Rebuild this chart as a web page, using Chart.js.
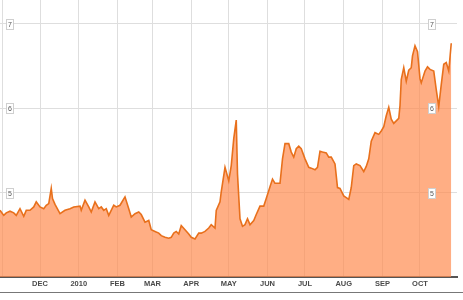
<!DOCTYPE html>
<html><head><meta charset="utf-8">
<script src="https://cdn.jsdelivr.net/npm/chart.js@4"></script>
<style>html,body{margin:0;padding:0;background:#fff;}#wrap{position:relative;width:463px;height:300px;}</style>
</head><body><div id="wrap"><canvas id="c" width="463" height="300"></canvas></div>
<script>
// day offsets counted from this date
const startDate = '2009-11-01';
const dayOffsets = [-2,1,3,6,9,11,14,17,19,22,25,27,30,33,35,37,39,40,42,46,50,54,57,62,63,66,69,71,74,77,79,81,83,85,89,91,94,
  98,101,103,106,109,111,114,117,119,122,125,127,130,133,135,137,139,141,143,146,149,151,154,157,159,162,165,167,170,171,174,175,178,181,183,185,187,188,190,
  192,194,196,198,201,203,206,209,211,214,216,218,222,224,226,229,231,233,235,237,239,242,245,247,250,252,254,256,259,261,263,266,268,270,273,275,277,279,281,283,286,289,291,293,295,298,301,303,305,307,309,311,313,317,318,319,321,323,325,327,328,330,332,334,335,338,340,342,345,347,349,351,353,355,357,359];
const values = [4.79,4.73,4.76,4.78,4.76,4.73,4.81,4.72,4.79,4.79,4.83,4.89,4.83,4.81,4.85,4.87,5.05,4.93,4.86,4.75,4.79,4.81,4.83,4.84,4.79,4.91,4.83,4.77,4.89,4.81,4.83,4.79,4.81,4.73,4.85,4.83,4.85,
  4.95,4.81,4.71,4.75,4.77,4.74,4.65,4.67,4.56,4.54,4.52,4.49,4.47,4.46,4.47,4.52,4.54,4.51,4.61,4.56,4.51,4.47,4.45,4.52,4.52,4.54,4.58,4.62,4.58,4.79,4.89,5.01,5.30,5.14,5.32,5.64,5.86,5.22,4.69,
  4.60,4.62,4.69,4.62,4.67,4.74,4.84,4.84,4.93,5.07,5.16,5.11,5.11,5.40,5.58,5.58,5.48,5.42,5.52,5.55,5.52,5.40,5.30,5.29,5.27,5.30,5.49,5.48,5.47,5.42,5.42,5.34,5.06,5.05,4.96,4.94,4.92,5.06,5.32,5.34,5.32,5.25,5.31,5.40,5.61,5.71,5.69,5.73,5.78,5.91,6.01,5.87,5.82,5.88,6.03,6.34,6.48,6.32,6.45,6.48,6.62,6.74,6.67,6.35,6.30,6.44,6.49,6.46,6.44,6.22,6.02,6.28,6.52,6.54,6.44,6.77];
const monthTickDays = [0,30,61,92,120,151,181,212,242,273,304,334];
const monthTickLabels = ['','DEC','2010','FEB','MAR','APR','MAY','JUN','JUL','AUG','SEP','OCT'];
const yGridValues = [4,5,6,7];
const yTickValues = [5,6,7];

const decor = {
  id: 'decor',
  afterDatasetsDraw(chart) {
    const ctx = chart.ctx, ys = chart.scales.y, a = chart.chartArea;
    ctx.save();
    ctx.font = '7px "Liberation Sans", Arial, sans-serif';
    ctx.textAlign = 'center';
    ctx.textBaseline = 'middle';
    yTickValues.forEach(v => {
      const py = ys.getPixelForValue(v);
      [a.left + 9.5, a.right - 26].forEach(px => {
        const bx = Math.round(px - 3.5) + 0.5, by = Math.round(py - 5) + 0.5;
        ctx.fillStyle = '#fff';
        ctx.fillRect(bx, by, 7, 10);
        ctx.strokeStyle = '#cfcfcf';
        ctx.lineWidth = 1;
        ctx.strokeRect(bx, by, 7, 10);
        ctx.fillStyle = '#555';
        ctx.fillText(String(v), bx + 3.5, by + 5.5);
      });
    });
    ctx.restore();
  },
  afterDraw(chart) {
    const ctx = chart.ctx, a = chart.chartArea;
    ctx.save();
    ctx.strokeStyle = '#777';
    ctx.lineWidth = 1;
    ctx.beginPath();
    const y = Math.round(a.bottom + 15) + 0.5;
    ctx.moveTo(0, y); ctx.lineTo(chart.width, y);
    ctx.stroke();
    ctx.restore();
  }
};

new Chart(document.getElementById('c'), {
  type: 'line',
  data: {
    datasets: [{
      data: dayOffsets.map((d, i) => ({x: d, y: values[i]})),
      borderColor: '#e8701c',
      borderWidth: 1.6,
      backgroundColor: 'rgba(255,140,80,0.7)',
      fill: 'start',
      pointRadius: 0,
      tension: 0
    }]
  },
  options: {
    responsive: false,
    animation: false,
    devicePixelRatio: 1,
    layout: {padding: {left: 0, right: 6, top: 0, bottom: 10}},
    plugins: {legend: {display: false}, tooltip: {enabled: false}},
    scales: {
      x: {
        type: 'linear', min: -2, max: 363.6,
        afterBuildTicks: s => { s.ticks = monthTickDays.map(v => ({value: v})); },
        ticks: {
          autoSkip: false, maxRotation: 0, padding: 2, color: '#4a4a4a',
          font: {family: '"Liberation Sans", Arial, sans-serif', size: 7.5, weight: 'bold', lineHeight: 1.2},
          callback: v => monthTickLabels[monthTickDays.indexOf(v)] ?? ''
        },
        grid: {color: '#dedede', drawTicks: false},
        border: {display: true, color: '#555', width: 2}
      },
      y: {
        min: 4, max: 7.282,
        afterBuildTicks: s => { s.ticks = yGridValues.map(v => ({value: v})); },
        ticks: {display: false},
        grid: {color: '#dedede', drawTicks: false},
        border: {display: false}
      }
    }
  },
  plugins: [decor]
});
</script></body></html>
